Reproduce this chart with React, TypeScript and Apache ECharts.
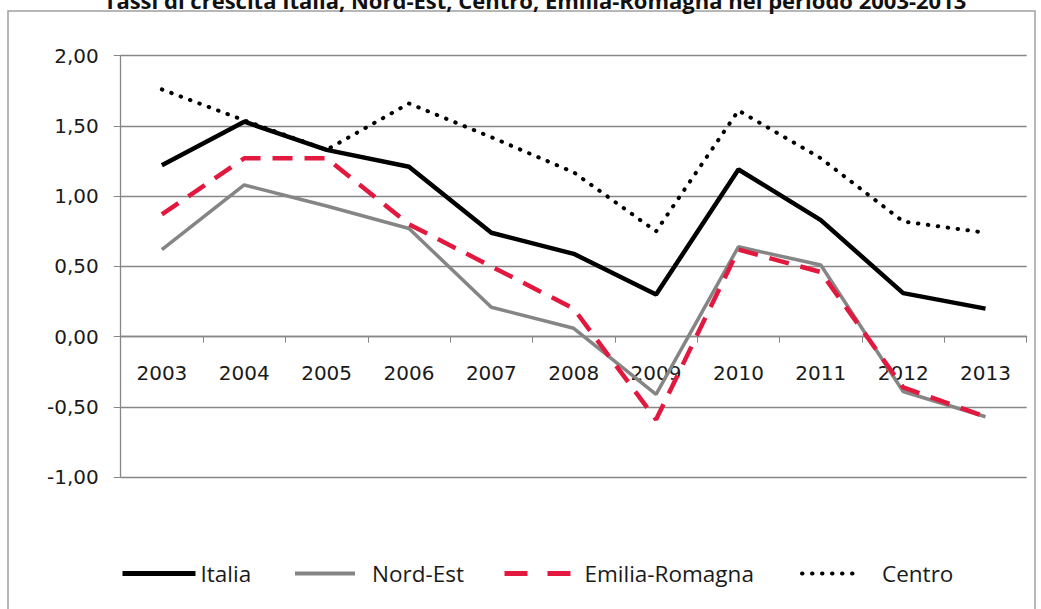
import React, { useEffect, useRef } from "react";
import * as echarts from "echarts";

// Growth rates (%) 2003-2013
const years = ["2003", "2004", "2005", "2006", "2007", "2008", "2009", "2010", "2011", "2012", "2013"];
const italia = [1.22, 1.53, 1.33, 1.21, 0.74, 0.59, 0.3, 1.19, 0.83, 0.31, 0.2];
const nordEst = [0.62, 1.08, 0.93, 0.77, 0.21, 0.06, -0.41, 0.64, 0.51, -0.39, -0.57];
const emiliaRomagna = [0.87, 1.27, 1.27, 0.8, 0.5, 0.2, -0.59, 0.62, 0.46, -0.36, -0.57];
const centro = [1.76, 1.54, 1.33, 1.66, 1.42, 1.17, 0.75, 1.61, 1.27, 0.82, 0.74];

const yMin = -1;
const yMax = 2;
const yStep = 0.5;

const titleText = "Tassi di crescita Italia, Nord-Est, Centro, Emilia-Romagna nel periodo 2003-2013";

const GRID = "#878787";
const RED = "#e2183f";
const GREY = "#858585";

const GRID_TOP = 55.7;
const GRID_BOTTOM = 131.8;
const CHART_H = 609;

export default function App() {
  const ref = useRef<HTMLDivElement>(null);

  useEffect(() => {
    if (!ref.current) return;
    const chart = echarts.init(ref.current, undefined, { renderer: "svg" });

    // category axis sits on the zero line: shift it up from the grid bottom
    const plotH = CHART_H - GRID_TOP - GRID_BOTTOM;
    const zeroShift = (plotH * (0 - yMin)) / (yMax - yMin);

    const legendText = {
      fontFamily: "Open Sans",
      fontSize: 22.5,
      color: "#1a1a1a",
    };
    const mkLegend = (
      name: string,
      left: number,
      width: number,
      pad: number,
      lineStyle: any
    ) => ({
      data: [name],
      left,
      top: 562,
      itemWidth: width,
      itemHeight: 14,
      padding: 0,
      itemStyle: { color: "rgba(0,0,0,0)", borderWidth: 0, opacity: 0 },
      lineStyle,
      textStyle: { ...legendText, padding: [0, 0, 0, pad] },
    });

    chart.setOption({
      animation: false,
      backgroundColor: "#ffffff",
      graphic: [
        {
          type: "rect",
          shape: { x: 8, y: 11, width: 1027, height: 640 },
          style: { fill: "none", stroke: "#a0a0a0", lineWidth: 1.5 },
          silent: true,
        },
        {
          type: "text",
          x: 535,
          y: 11,
          style: {
            text: titleText,
            fontFamily: "Open Sans",
            fontWeight: "bold",
            fontSize: 22,
            fill: "#111111",
            align: "center",
            verticalAlign: "bottom",
          },
          silent: true,
        },
      ],
      legend: [
        mkLegend("Italia", 120, 73, 0, { width: 5 }),
        mkLegend("Nord-Est", 293, 60, 12, { width: 4 }),
        mkLegend("Emilia-Romagna", 502, 66, 9, { width: 5, type: [23, 20] }),
        mkLegend("Centro", 800, 60, 15, { width: 4, type: [0.5, 9.5], cap: "round" }),
      ],
      grid: { left: 120.7, right: 14.3, top: GRID_TOP, bottom: GRID_BOTTOM },
      xAxis: {
        type: "category",
        data: years,
        boundaryGap: true,
        position: "bottom",
        offset: -zeroShift,
        axisLine: { onZero: false, lineStyle: { color: GRID, width: 1.3 } },
        axisTick: { show: true, length: 6, lineStyle: { color: GRID } },
        axisLabel: {
          margin: 26,
          fontFamily: "DejaVu Sans",
          fontSize: 20,
          color: "#1a1a1a",
          interval: 0,
        },
        splitLine: { show: false },
      },
      yAxis: {
        type: "value",
        min: yMin,
        max: yMax,
        interval: yStep,
        axisLine: { show: true, lineStyle: { color: GRID, width: 1.3 } },
        axisTick: { show: true, length: 7, lineStyle: { color: GRID } },
        axisLabel: {
          margin: 22,
          fontFamily: "DejaVu Sans",
          fontSize: 20,
          color: "#1a1a1a",
          formatter: (v: number) => v.toFixed(2).replace(".", ","),
        },
        splitLine: { show: true, lineStyle: { color: GRID, width: 1.3 } },
      },
      series: [
        {
          name: "Centro",
          type: "line",
          data: centro,
          symbol: "none",
          z: 2,
          color: "#000000",
          lineStyle: { color: "#000000", width: 4, type: [0.5, 9.5], cap: "round" },
        },
        {
          name: "Italia",
          type: "line",
          data: italia,
          symbol: "none",
          z: 3,
          color: "#000000",
          lineStyle: { color: "#000000", width: 4.5 },
        },
        {
          name: "Nord-Est",
          type: "line",
          data: nordEst,
          symbol: "none",
          z: 4,
          color: GREY,
          lineStyle: { color: GREY, width: 3.5 },
        },
        {
          name: "Emilia-Romagna",
          type: "line",
          data: emiliaRomagna,
          symbol: "none",
          z: 5,
          color: RED,
          lineStyle: { color: RED, width: 4.5, type: [20, 12] },
        },
      ],
    });

    return () => chart.dispose();
  }, []);

  return (
    <div
      ref={ref}
      style={{ position: "fixed", left: 0, top: 0, width: 1041, height: 609 }}
    />
  );
}
